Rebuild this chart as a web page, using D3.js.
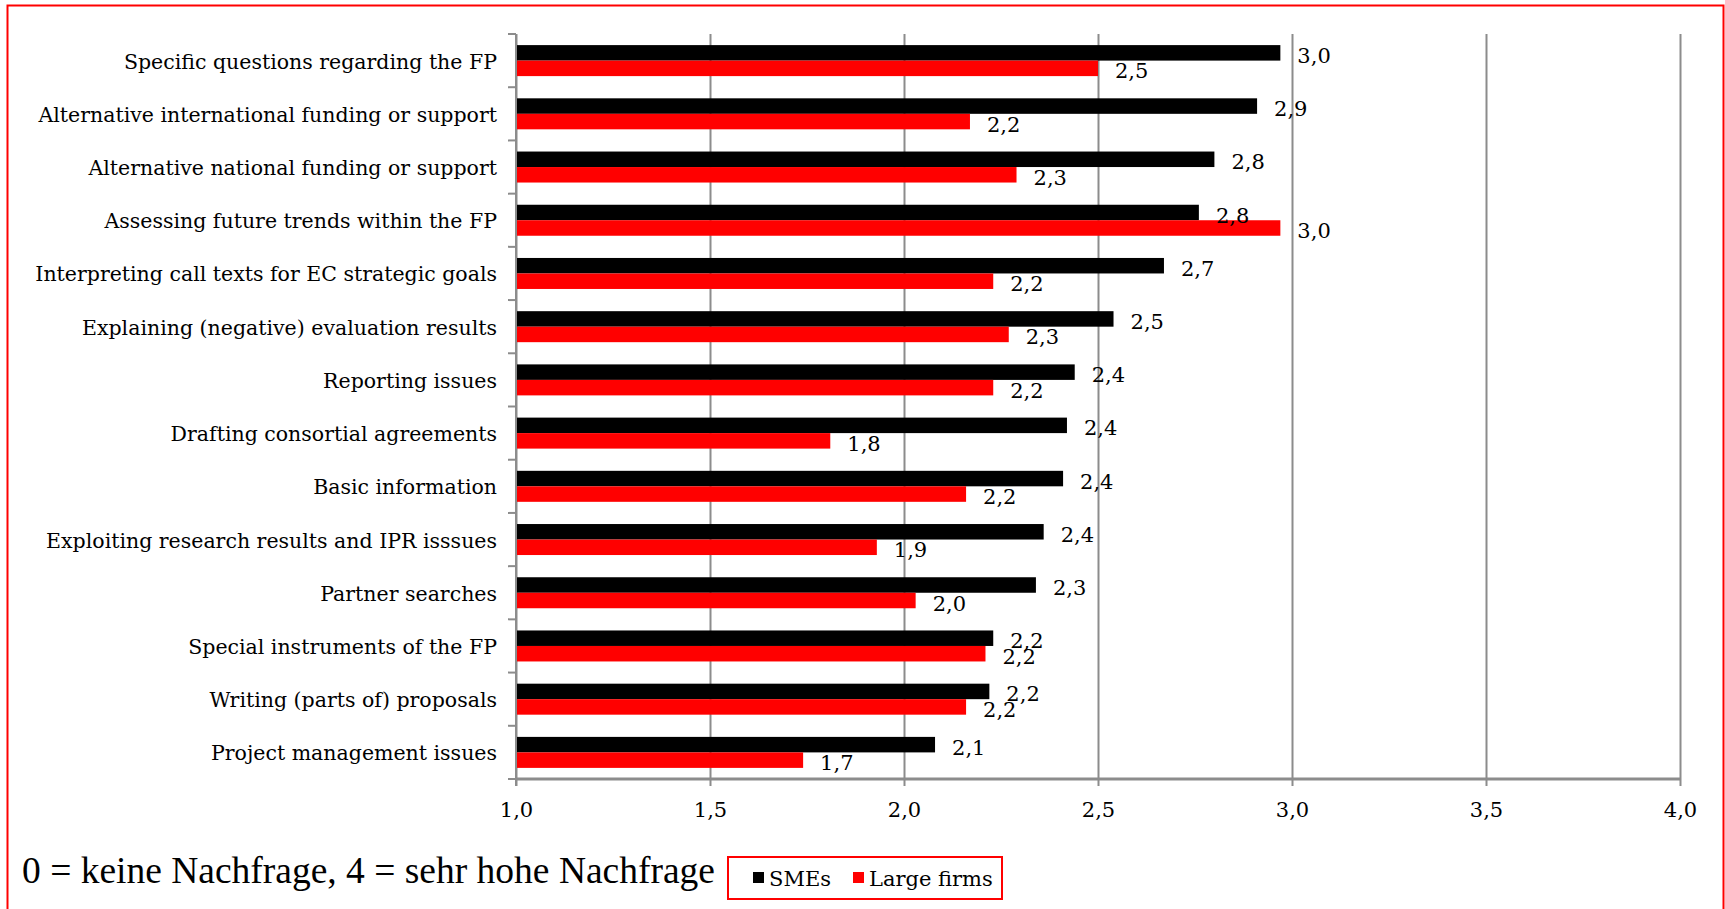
<!DOCTYPE html>
<html>
<head>
<meta charset="utf-8">
<script src="https://cdn.jsdelivr.net/npm/d3@7"></script>
<style>
  html, body { margin: 0; padding: 0; background: #fff; }
  svg { display: block; }
</style>
</head>
<body>
<script>
// Demand for support services, mean score per topic (SMEs vs. large firms)
const categories = [
  "Specific questions regarding the FP",
  "Alternative international funding or support",
  "Alternative national funding or support",
  "Assessing future trends within the FP",
  "Interpreting call texts for EC strategic goals",
  "Explaining (negative) evaluation results",
  "Reporting issues",
  "Drafting consortial agreements",
  "Basic information",
  "Exploiting research results and IPR isssues",
  "Partner searches",
  "Special instruments of the FP",
  "Writing (parts of) proposals",
  "Project management issues"
];
const smeValues   = [2.97, 2.91, 2.80, 2.76, 2.67, 2.54, 2.44, 2.42, 2.41, 2.36, 2.34, 2.23, 2.22, 2.08];
const largeValues = [2.50, 2.17, 2.29, 2.97, 2.23, 2.27, 2.23, 1.81, 2.16, 1.93, 2.03, 2.21, 2.16, 1.74];
const seriesNames = ["SMEs", "Large firms"];
const xTicks = [1.0, 1.5, 2.0, 2.5, 3.0, 3.5, 4.0];
const noteText = "0 = keine Nachfrage, 4 = sehr hohe Nachfrage";

const W = 1725, H = 909;
const colors = ["#000000", "#ff0000"];
const gridColor = "#8c8c8c";
const serif = "'DejaVu Serif', serif";

const deLocale = d3.formatLocale({decimal: ",", thousands: ".", grouping: [3], currency: ["", " €"]});
const fmt = deLocale.format(".1f");

const svg = d3.select("body").append("svg").attr("width", W).attr("height", H);

// outer frame
svg.append("rect")
  .attr("x", 7.5).attr("y", 5.5).attr("width", W - 9).attr("height", H + 20)
  .attr("fill", "none").attr("stroke", "#ff0000").attr("stroke-width", 2);

const plot = {left: 516, right: 1680, top: 34, bottom: 779};

const x = d3.scaleLinear().domain([1, 4]).range([plot.left, plot.right]);
const y = d3.scaleBand().domain(categories).range([plot.top, plot.bottom]).paddingInner(0).paddingOuter(0);
const barH = 15.5;

// vertical gridlines with tick marks below the axis
const xAxis = d3.axisBottom(x).tickValues(xTicks).tickSize(plot.bottom - plot.top + 7).tickFormat(fmt).tickPadding(16);
const gx = svg.append("g").attr("transform", `translate(0,${plot.top})`).call(xAxis);
gx.select(".domain").remove();
gx.selectAll(".tick line").attr("stroke", gridColor).attr("stroke-width", 2);
gx.selectAll(".tick text")
  .attr("fill", "#000").attr("font-family", serif).attr("font-size", 21);

// bars
const rows = categories.map((c, i) => ({c, v: [smeValues[i], largeValues[i]]}));
const groups = svg.append("g").selectAll("g").data(rows).join("g");
groups.selectAll("rect").data(d => d.v.map((v, s) => ({c: d.c, v, s}))).join("rect")
  .attr("x", x(1))
  .attr("y", d => y(d.c) + y.bandwidth() / 2 - barH + d.s * barH)
  .attr("width", d => x(d.v) - x(1))
  .attr("height", barH)
  .attr("fill", d => colors[d.s]);

// y axis with outward ticks at band boundaries
const yLine = svg.append("g");
yLine.append("line")
  .attr("x1", plot.left).attr("x2", plot.left).attr("y1", plot.top).attr("y2", plot.bottom + 7)
  .attr("stroke", gridColor).attr("stroke-width", 2);
const bounds = categories.map(c => y(c)).concat([plot.bottom]);
yLine.selectAll("line.tk").data(bounds).join("line").attr("class", "tk")
  .attr("x1", plot.left - 8).attr("x2", plot.left).attr("y1", d => d).attr("y2", d => d)
  .attr("stroke", gridColor).attr("stroke-width", 2);

// x axis baseline
svg.append("line")
  .attr("x1", plot.left).attr("x2", plot.right).attr("y1", plot.bottom).attr("y2", plot.bottom)
  .attr("stroke", gridColor).attr("stroke-width", 3);

// category labels
svg.append("g").selectAll("text").data(categories).join("text")
  .attr("x", plot.left - 19)
  .attr("y", d => y(d) + y.bandwidth() / 2 + 8)
  .attr("text-anchor", "end")
  .attr("font-family", serif).attr("font-size", 20.5)
  .text(d => d);

// value labels
groups.selectAll("text").data(d => d.v.map((v, s) => ({c: d.c, v, s}))).join("text")
  .attr("x", d => x(d.v) + 17)
  .attr("y", d => y(d.c) + y.bandwidth() / 2 - barH / 2 + d.s * barH + 10)
  .attr("font-family", serif).attr("font-size", 21)
  .text(d => fmt(d.v));

// scale note
svg.append("text")
  .attr("x", 22).attr("y", 883)
  .attr("font-family", "'Liberation Serif', 'Times New Roman', serif").attr("font-size", 37.5)
  .text(noteText);

// legend
const lg = svg.append("g");
lg.append("rect").attr("x", 728).attr("y", 857).attr("width", 274).attr("height", 42)
  .attr("fill", "#fff").attr("stroke", "#ff0000").attr("stroke-width", 2);
const legendX = [753, 853];
seriesNames.forEach((name, i) => {
  lg.append("rect").attr("x", legendX[i]).attr("y", 872).attr("width", 11).attr("height", 11).attr("fill", colors[i]);
  lg.append("text").attr("x", legendX[i] + 16).attr("y", 886)
    .attr("font-family", serif).attr("font-size", 21).text(name);
});
</script>
</body>
</html>
